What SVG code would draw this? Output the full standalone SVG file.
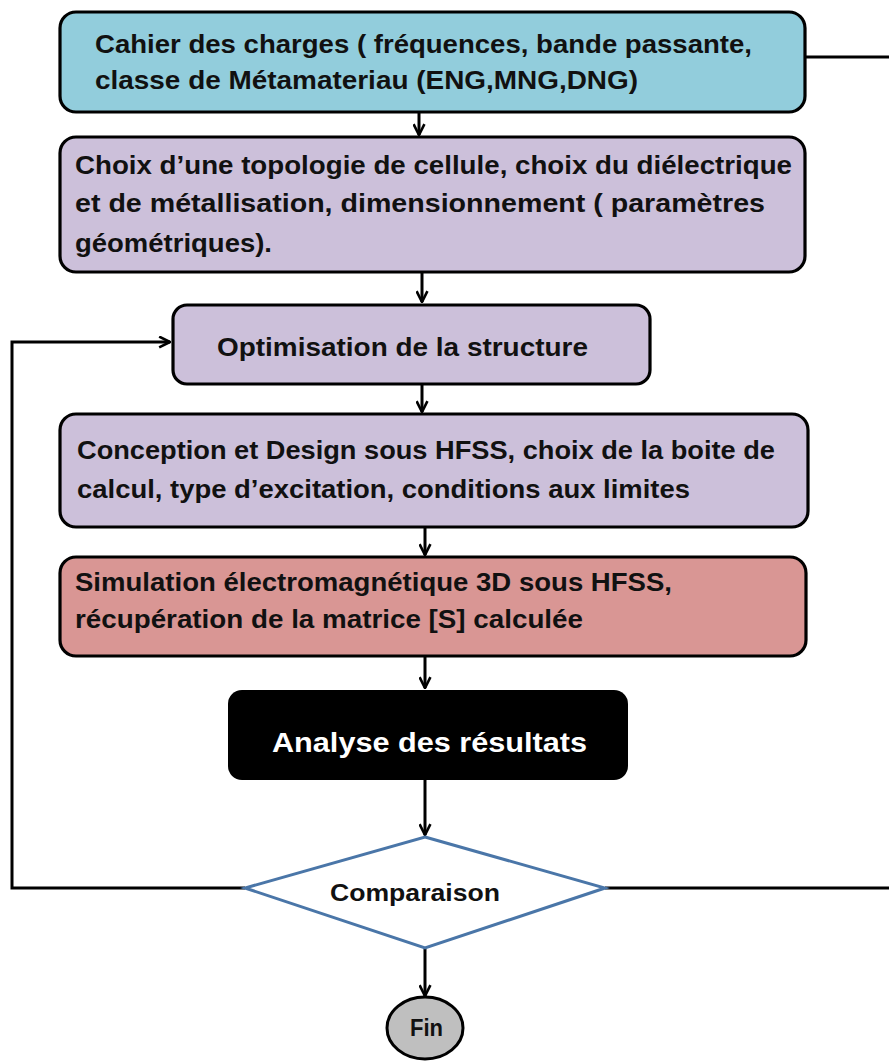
<svg xmlns="http://www.w3.org/2000/svg" width="889" height="1064" viewBox="0 0 889 1064">
<defs>
<marker id="arr" viewBox="0 0 12 12" refX="11" refY="6" markerWidth="13" markerHeight="13" markerUnits="userSpaceOnUse" orient="auto">
<path d="M1,1 L11,6 L1,11" fill="none" stroke="#000" stroke-width="2.4"/>
</marker>
</defs>
<style>
.box{stroke:#000;stroke-width:3.2}
.t{font-family:"Liberation Sans",Arial,sans-serif;font-weight:bold;font-size:25px;fill:#111}
.c{stroke:#000;stroke-width:3;fill:none}
</style>
<rect width="889" height="1064" fill="#fff"/>
<g id="connectors">
<line class="c" x1="805" y1="57" x2="889" y2="57"/>
<line class="c" x1="419" y1="112" x2="419" y2="135" marker-end="url(#arr)"/>
<line class="c" x1="422" y1="272" x2="422" y2="302" marker-end="url(#arr)"/>
<line class="c" x1="422" y1="384" x2="422" y2="412" marker-end="url(#arr)"/>
<line class="c" x1="425" y1="527" x2="425" y2="555" marker-end="url(#arr)"/>
<line class="c" x1="425" y1="656" x2="425" y2="688" marker-end="url(#arr)"/>
<line class="c" x1="425" y1="780" x2="425" y2="835" marker-end="url(#arr)"/>
<line class="c" x1="425" y1="948" x2="425" y2="996" marker-end="url(#arr)"/>
<polyline class="c" points="245,888 12,888 12,342 170,342" marker-end="url(#arr)"/>
<line class="c" x1="605" y1="888" x2="889" y2="888"/>
</g>
<g id="n1">
<rect class="box" x="60" y="12" width="745" height="100" rx="16" fill="#92CDDC"/>
<text class="t" x="95" y="53" textLength="657" lengthAdjust="spacingAndGlyphs">Cahier des charges ( fréquences, bande passante,</text>
<text class="t" x="95" y="89" textLength="543" lengthAdjust="spacingAndGlyphs">classe de Métamateriau  (ENG,MNG,DNG)</text>
</g>
<g id="n2">
<rect class="box" x="60" y="137" width="745" height="135" rx="16" fill="#CCC0DA"/>
<text class="t" x="75" y="174" textLength="717" lengthAdjust="spacingAndGlyphs">Choix d’une topologie de cellule, choix du diélectrique</text>
<text class="t" x="75" y="212" textLength="690" lengthAdjust="spacingAndGlyphs">et de métallisation, dimensionnement  ( paramètres</text>
<text class="t" x="75" y="252" textLength="197" lengthAdjust="spacingAndGlyphs">géométriques).</text>
</g>
<g id="n3">
<rect class="box" x="173" y="305" width="477" height="79" rx="14" fill="#CCC0DA"/>
<text class="t" x="217" y="356" textLength="371" lengthAdjust="spacingAndGlyphs">Optimisation de la structure</text>
</g>
<g id="n4">
<rect class="box" x="60" y="414" width="748" height="113" rx="16" fill="#CCC0DA"/>
<text class="t" x="77" y="459" textLength="698" lengthAdjust="spacingAndGlyphs">Conception et Design sous HFSS, choix de la boite de</text>
<text class="t" x="77" y="498" textLength="613" lengthAdjust="spacingAndGlyphs">calcul, type d’excitation, conditions aux limites</text>
</g>
<g id="n5">
<rect class="box" x="60" y="557" width="746" height="99" rx="16" fill="#D99694"/>
<text class="t" x="75" y="591" textLength="597" lengthAdjust="spacingAndGlyphs">Simulation électromagnétique  3D sous HFSS,</text>
<text class="t" x="75" y="628" textLength="508" lengthAdjust="spacingAndGlyphs">récupération de la matrice  [S] calculée</text>
</g>
<g id="n6">
<rect x="228" y="690" width="400" height="90" rx="14" fill="#000"/>
<text class="t" x="272" y="752" style="fill:#fff;font-size:27px" textLength="315" lengthAdjust="spacingAndGlyphs">Analyse des résultats</text>
</g>
<g id="n7">
<polygon points="425,837 605,888 425,948 245,888" fill="#fff" stroke="#4A76A8" stroke-width="3"/>
<text class="t" x="330" y="901" style="font-size:24px" textLength="170" lengthAdjust="spacingAndGlyphs">Comparaison</text>
</g>
<g id="n8">
<ellipse cx="425" cy="1028" rx="38" ry="31" fill="#BFBFBF" stroke="#000" stroke-width="3"/>
<text class="t" x="410" y="1036" style="font-size:24px" textLength="33" lengthAdjust="spacingAndGlyphs">Fin</text>
</g>
</svg>
